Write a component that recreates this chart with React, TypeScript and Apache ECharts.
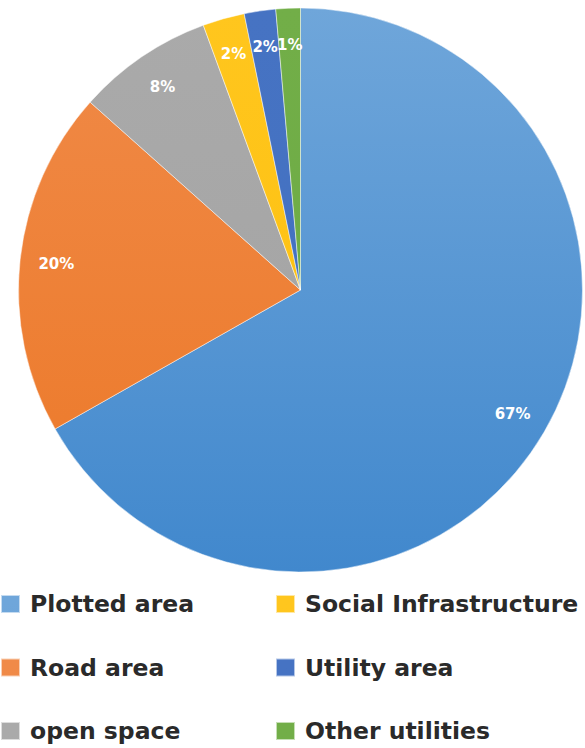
import React, { useEffect, useRef } from "react";
import * as echarts from "echarts";

const categories = [
  "Plotted area",
  "Road area",
  "open space",
  "Social Infrastructure",
  "Utility area",
  "Other utilities",
];
const shares = [66.8, 19.8, 7.8, 2.4, 1.8, 1.4];
const topColors = ["#6fa6da", "#f08a48", "#aaaaaa", "#ffc61e", "#4673c3", "#72ae48"];
const bottomColors = ["#4188cd", "#ec7827", "#a2a2a2", "#fdbf0c", "#4270c0", "#6cab44"];
const legendLeft = ["Plotted area", "Road area", "open space"];
const legendRight = ["Social Infrastructure", "Utility area", "Other utilities"];

export default function App() {
  const ref = useRef<HTMLDivElement>(null);
  useEffect(() => {
    if (!ref.current) return;
    const chart = echarts.init(ref.current, null, { renderer: "svg" });
    const cx = 300.5;
    const cy = 290;
    const r = 282;
    const fills = categories.map(
      (_, i) =>
        new echarts.graphic.LinearGradient(
          0,
          cy - r,
          0,
          cy + r,
          [
            { offset: 0, color: topColors[i] },
            { offset: 1, color: bottomColors[i] },
          ],
          true
        )
    );
    const legendCommon = {
      orient: "vertical" as const,
      icon: "rect",
      itemWidth: 19,
      itemHeight: 18,
      itemGap: 39.5,
      padding: 0,
      height: 156,
      selectedMode: false,
      textStyle: {
        fontFamily: "DejaVu Sans",
        fontWeight: "bold",
        fontSize: 23.5,
        lineHeight: 24,
        color: "#2a2a2a",
        padding: [0, 0, 0, 5],
      },
    };
    chart.setOption({
      animation: false,
      color: bottomColors,
      legend: [
        { ...legendCommon, data: legendLeft, left: 0, top: 592 },
        { ...legendCommon, data: legendRight, left: 275, top: 592 },
      ],
      series: [
        {
          type: "pie",
          center: [cx, cy],
          radius: [0, r],
          startAngle: 90,
          clockwise: true,
          silent: true,
          label: { show: false },
          labelLine: { show: false },
          itemStyle: { borderColor: "rgba(255,255,255,0.6)", borderWidth: 0.8 },
          data: categories.map((name, i) => ({
            name,
            value: shares[i],
            itemStyle: { color: fills[i] },
          })),
        },
        {
          type: "pie",
          center: [cx, cy],
          radius: [r * 0.72, r],
          startAngle: 90,
          clockwise: true,
          silent: true,
          avoidLabelOverlap: false,
          legendHoverLink: false,
          itemStyle: { color: "rgba(0,0,0,0)", borderWidth: 0 },
          labelLayout: { hideOverlap: false },
          label: {
            show: true,
            position: "inside",
            color: "#ffffff",
            fontFamily: "DejaVu Sans",
            fontWeight: "bold",
            fontSize: 15,
            formatter: (p: any) => Math.round(p.percent) + "%",
          },
          labelLine: { show: false },
          data: categories.map((name, i) => ({
            name: name + " ",
            value: shares[i],
          })),
        },
      ],
    });
    return () => chart.dispose();
  }, []);
  return (
    <div
      ref={ref}
      style={{ position: "fixed", left: 0, top: 0, width: 585, height: 748, background: "#ffffff" }}
    />
  );
}
